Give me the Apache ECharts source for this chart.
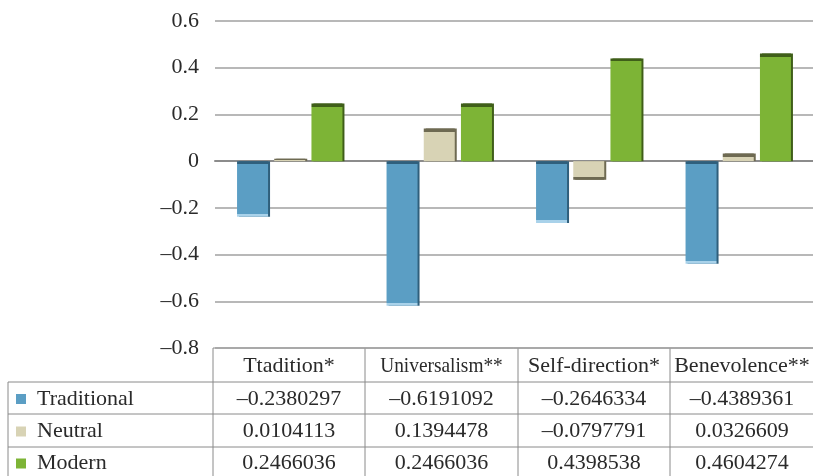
<!DOCTYPE html>
<html><head><meta charset="utf-8">
<script src="https://cdn.jsdelivr.net/npm/echarts@6/dist/echarts.min.js"></script>
<style>html,body{margin:0;padding:0;background:#fff}#c{width:813px;height:476px}</style>
</head><body><div id="c"></div>
<script>
const categories = ['Ttadition*', 'Universalism**', 'Self-direction*', 'Benevolence**'];
const seriesNames = ['Traditional', 'Neutral', 'Modern'];
const traditional = [-0.2380297, -0.6191092, -0.2646334, -0.4389361];
const neutral = [0.0104113, 0.1394478, -0.0797791, 0.0326609];
const modern = [0.2466036, 0.2466036, 0.4398538, 0.4604274];
const tableText = [
  ['–0.2380297', '–0.6191092', '–0.2646334', '–0.4389361'],
  ['0.0104113', '0.1394478', '–0.0797791', '0.0326609'],
  ['0.2466036', '0.2466036', '0.4398538', '0.4604274']
];
const yMin = -0.8, yMax = 0.6, yStep = 0.2;

const colors = ['#5B9EC4', '#D8D3B5', '#7DB436'];
const darks = ['#2F5F7C', '#6E6A52', '#3F5E19'];
const lights = ['#A9D2EA', '#EEEBDB', '#A9D67A'];
const FONT = '"Liberation Serif", "DejaVu Serif", serif';

const gridLeft = 215, gridTop = 21, gridH = 327, colW = 152;
const pxPerUnit = gridH / (yMax - yMin);

function styled(vals, si) {
  return vals.map(v => {
    const h = Math.max(Math.abs(v) * pxPerUnit, 1);
    const e = Math.min(3 / h, 0.5);
    let stops;
    if (v >= 0) {
      stops = [{offset: 0, color: darks[si]}, {offset: e, color: darks[si]}, {offset: e, color: colors[si]}, {offset: 1, color: colors[si]}];
    } else if (si === 0) {
      stops = [{offset: 0, color: darks[si]}, {offset: e, color: darks[si]}, {offset: e, color: colors[si]}, {offset: 1 - e, color: colors[si]}, {offset: 1 - e, color: lights[si]}, {offset: 1, color: lights[si]}];
    } else {
      stops = [{offset: 0, color: colors[si]}, {offset: 1 - e, color: colors[si]}, {offset: 1 - e, color: darks[si]}, {offset: 1, color: darks[si]}];
    }
    return {value: v, itemStyle: {color: {type: 'linear', x: 0, y: 0, x2: 0, y2: 1, colorStops: stops}}};
  });
}

const allVals = [traditional, neutral, modern];
const series = seriesNames.map((n, i) => ({
  name: n, type: 'bar', barWidth: 31, barGap: '20%',
  data: styled(allVals[i], i),
  itemStyle: {shadowColor: darks[i], shadowOffsetX: 2, shadowBlur: 0},
  animation: false
}));

// table graphics
const g = [];
const lineStyle = {stroke: '#8a8a8a', lineWidth: 1};
const rowsY = [348, 382, 414, 447, 478];
const colX = [213, 365, 518, 670, 822];
const TXT = '#2a2a2a';
const FS = 22;
g.push({type: 'line', shape: {x1: colX[0], y1: rowsY[0], x2: 830, y2: rowsY[0]}, style: lineStyle});
for (let r = 1; r < 4; r++) g.push({type: 'line', shape: {x1: 8, y1: rowsY[r], x2: 830, y2: rowsY[r]}, style: lineStyle});
g.push({type: 'line', shape: {x1: 8, y1: rowsY[1], x2: 8, y2: 478}, style: lineStyle});
for (let c = 0; c < 4; c++) g.push({type: 'line', shape: {x1: colX[c], y1: rowsY[0], x2: colX[c], y2: 478}, style: lineStyle});
categories.forEach((cat, c) => {
  const cx = (colX[c] + colX[c + 1]) / 2 + (c === 3 ? -4 : 0);
  g.push({type: 'text', x: cx, y: (rowsY[0] + rowsY[1]) / 2 + 1,
    scaleX: c === 1 ? 0.88 : 1,
    style: {text: cat, font: FS + 'px ' + FONT, fill: TXT, align: 'center', verticalAlign: 'middle'}});
});
seriesNames.forEach((n, r) => {
  const cy = (rowsY[r + 1] + rowsY[r + 2]) / 2 + 1;
  g.push({type: 'rect', shape: {x: 16, y: cy - 5, width: 10, height: 10}, style: {fill: colors[r]}});
  g.push({type: 'text', x: 37, y: cy, style: {text: n, font: FS + 'px ' + FONT, fill: TXT, align: 'left', verticalAlign: 'middle'}});
  tableText[r].forEach((t, c) => {
    const cx = (colX[c] + colX[c + 1]) / 2 + (c === 3 ? -4 : 0);
    g.push({type: 'text', x: cx, y: cy,
      style: {text: t, font: FS + 'px ' + FONT, fill: TXT, align: 'center', verticalAlign: 'middle'}});
  });
});

const chart = echarts.init(document.getElementById('c'));
chart.setOption({
  animation: false,
  grid: {left: gridLeft, top: gridTop, width: colW * 4, height: gridH, containLabel: false},
  xAxis: {type: 'category', data: categories,
    axisLine: {show: true, onZero: true, lineStyle: {color: '#8c8c8c', width: 2}},
    axisTick: {show: false}, axisLabel: {show: false}, splitLine: {show: false}},
  yAxis: {type: 'value', min: yMin, max: yMax, interval: yStep,
    axisLine: {show: false}, axisTick: {show: false},
    splitLine: {show: true, lineStyle: {color: '#a0a0a0', width: 1.5}},
    axisLabel: {margin: 16, fontFamily: FONT, fontSize: FS, color: TXT,
      formatter: v => { const r = Math.round(v * 10) / 10; return r === 0 ? '0' : (r < 0 ? '–' + Math.abs(r).toFixed(1) : r.toFixed(1)); }}},
  series: series,
  graphic: g
});
</script></body></html>
